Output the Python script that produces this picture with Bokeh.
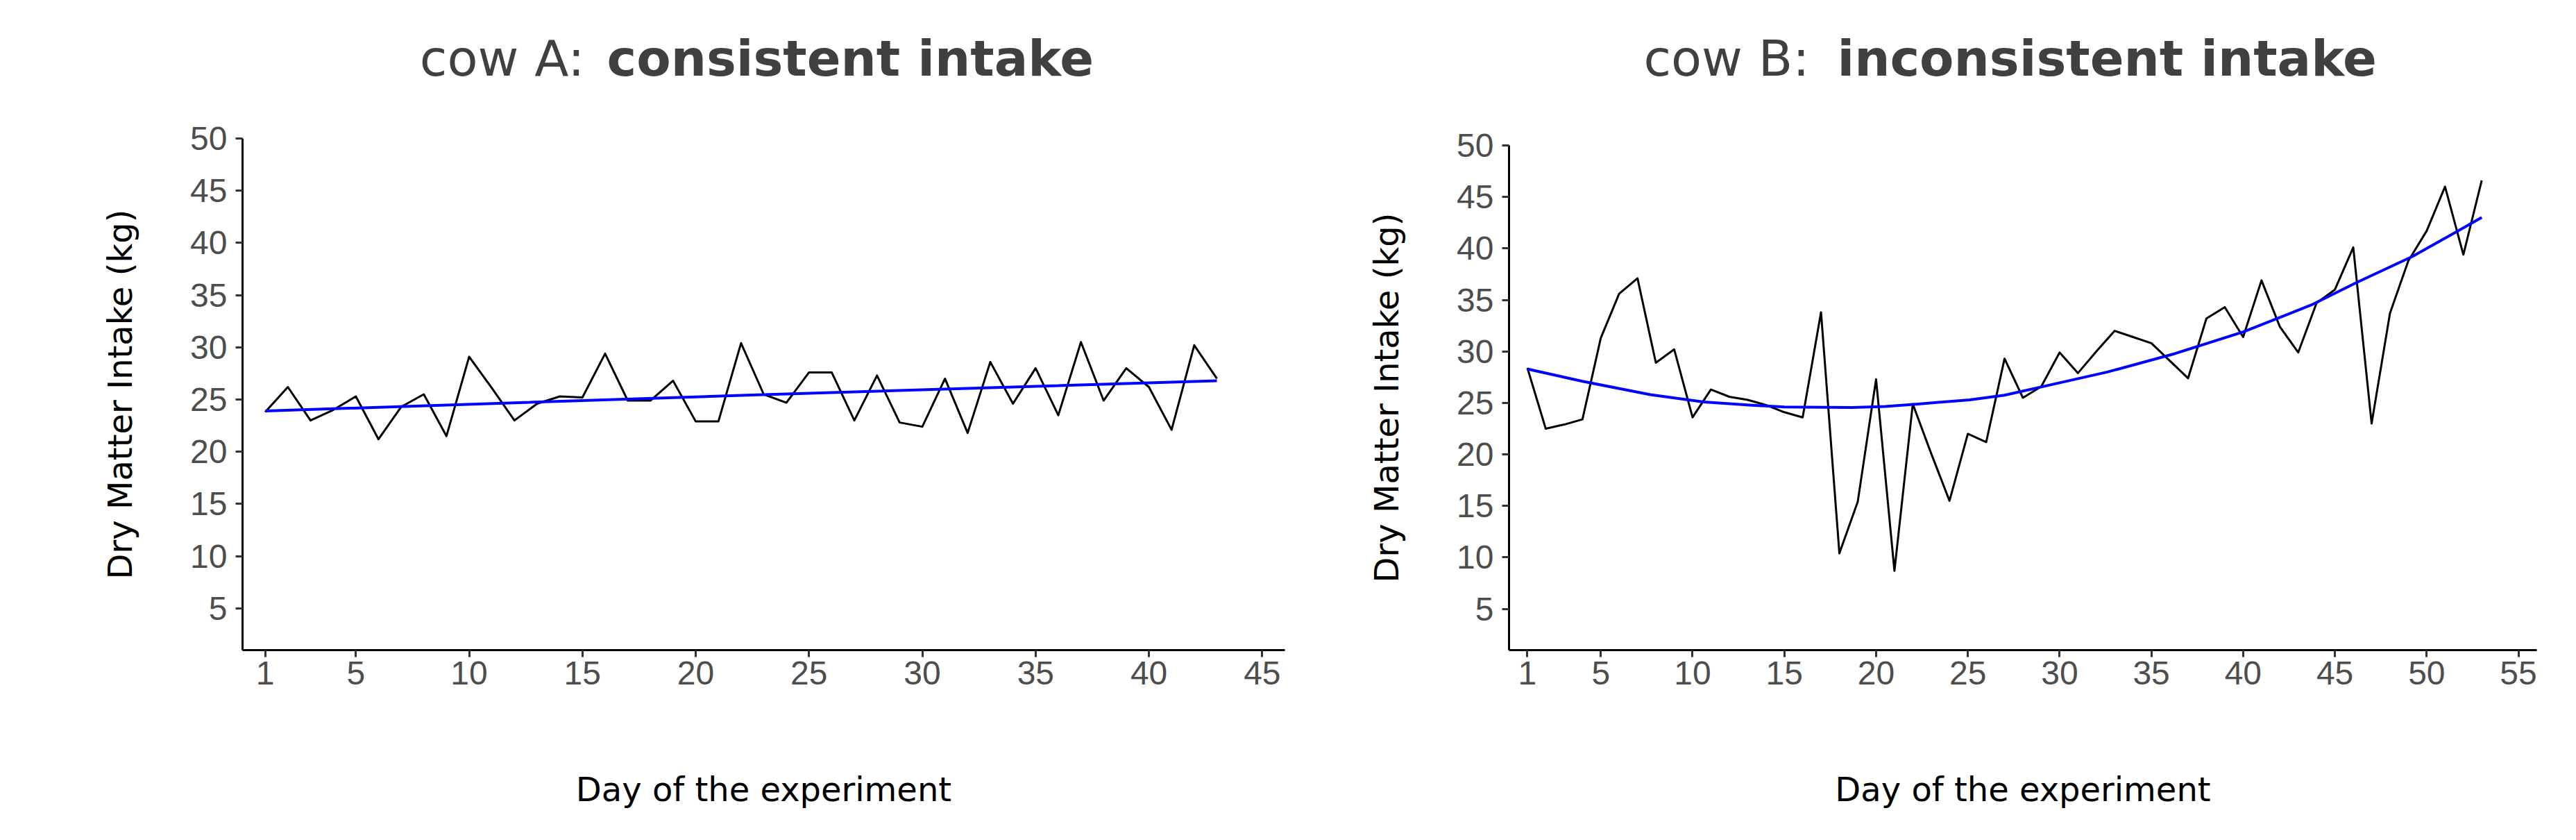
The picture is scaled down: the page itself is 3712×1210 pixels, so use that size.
from bokeh.plotting import figure
from bokeh.layouts import row, column
from bokeh.models import Range1d, FixedTicker, Label
from bokeh.embed import file_html
from bokeh.resources import INLINE

# ---- data ----
days_a = list(range(1, 44))
intake_a = [23.8, 26.2, 23.0, 24.0, 25.3, 21.2, 24.3, 25.5, 21.5, 29.1,
            26.1, 23.0, 24.6, 25.3, 25.2, 29.4, 24.9, 24.9, 26.8, 22.9,
            22.9, 30.4, 25.5, 24.7, 27.6, 27.6, 23.0, 27.3, 22.8, 22.4,
            27.0, 21.8, 28.6, 24.6, 28.0, 23.5, 30.5, 24.9, 28.0, 26.2,
            22.1, 30.2, 27.0]
# smoothed trend (blue)
trend_days_a = [1, 22, 43]
trend_a = [23.9, 25.4, 26.8]

days_b = list(range(1, 54))
intake_b = [28.4, 22.5, 22.9, 23.4, 31.3, 35.6, 37.1, 28.9, 30.2, 23.6,
            26.3, 25.6, 25.3, 24.8, 24.1, 23.6, 33.8, 10.4, 15.4, 27.3,
            8.7, 24.9, 20.1, 15.5, 22.0, 21.2, 29.3, 25.5, 26.6, 29.9,
            27.9, 30.0, 32.0, 31.4, 30.8, 29.1, 27.4, 33.2, 34.3, 31.4,
            36.9, 32.4, 29.9, 34.7, 36.0, 40.1, 23.0, 33.7, 38.8, 41.7,
            46.0, 39.4, 46.6]
trend_days_b = [1, 4, 7.7, 10.6, 13.1, 15, 18.7, 20.5, 22.3, 25.1, 27,
                29, 32.6, 36.3, 40, 43.7, 46.2, 49.2, 51.7, 53]
trend_b = [28.3, 27.1, 25.8, 25.1, 24.8, 24.6, 24.55, 24.65, 24.9, 25.3,
           25.75, 26.55, 28.0, 29.8, 31.9, 34.5, 36.7, 39.2, 41.7, 43.0]

y_ticks = [5, 10, 15, 20, 25, 30, 35, 40, 45, 50]
x_ticks_a = [1, 5, 10, 15, 20, 25, 30, 35, 40, 45]
x_ticks_b = [1, 5, 10, 15, 20, 25, 30, 35, 40, 45, 50, 55]

title_a = ("cow A:", "consistent intake")
title_b = ("cow B:", "inconsistent intake")
x_label = "Day of the experiment"
y_label = "Dry Matter Intake (kg)"

TITLE_FONT = "DejaVu Sans"
TICK_FONT = "Liberation Sans"
TITLE_H = 150
TITLE_BASE = 67


def make_panel(days, intake, tdays, trend, xmax, xticks, width, bl, br, bt):
    p = figure(width=width, height=1194 - TITLE_H, output_backend="svg",
               toolbar_location=None,
               x_range=Range1d(0, xmax), y_range=Range1d(1, 50),
               min_border_left=bl, min_border_right=br,
               min_border_top=bt, min_border_bottom=258)
    p.background_fill_color = "white"
    p.border_fill_color = "white"
    p.outline_line_color = None
    p.grid.visible = False

    p.line(days, intake, line_color="black", line_width=3, line_join="round")
    p.line(tdays, trend, line_color="#0000FF", line_width=4, line_join="round")

    p.xaxis.ticker = FixedTicker(ticks=xticks)
    p.yaxis.ticker = FixedTicker(ticks=y_ticks)
    for ax in (p.xaxis[0], p.yaxis[0]):
        ax.axis_line_color = "black"
        ax.axis_line_width = 3
        ax.major_tick_line_color = "#333333"
        ax.major_tick_line_width = 3
        ax.major_tick_out = 10
        ax.major_tick_in = 0
        ax.minor_tick_line_color = None
        ax.major_label_text_font = TICK_FONT
        ax.major_label_text_font_size = "48px"
        ax.major_label_text_color = "#4D4D4D"
        ax.axis_label_text_font = TITLE_FONT
        ax.axis_label_text_font_size = "48px"
        ax.axis_label_text_font_style = "normal"
        ax.axis_label_text_color = "black"
    p.xaxis.axis_label = x_label
    p.yaxis.axis_label = y_label
    p.xaxis.major_label_standoff = 6
    p.yaxis.major_label_standoff = 12
    p.xaxis.axis_label_standoff = 120
    p.yaxis.axis_label_standoff = 70
    return p


def make_title(width, parts, split_l, split_r):
    t = figure(width=width, height=TITLE_H, output_backend="svg",
               toolbar_location=None, title=None,
               x_axis_type=None, y_axis_type=None,
               x_range=Range1d(0, 1), y_range=Range1d(0, 1), min_border=0)
    t.grid.visible = False
    t.outline_line_color = None
    t.background_fill_color = "white"
    t.border_fill_color = "white"
    t.add_layout(Label(x=split_l, y=TITLE_BASE, x_units="screen", y_units="screen",
                       text=parts[0], text_font=TITLE_FONT, text_font_size="72px",
                       text_color="#404040", text_align="right",
                       text_baseline="alphabetic"))
    t.add_layout(Label(x=split_r, y=TITLE_BASE, x_units="screen", y_units="screen",
                       text=parts[1], text_font=TITLE_FONT, text_font_size="72px",
                       text_font_style="bold", text_color="#404040",
                       text_align="left", text_baseline="alphabetic"))
    return t


p1 = make_panel(days_a, intake_a, trend_days_a, trend_a, 46, x_ticks_a,
                1872, 349, 21, 199 - TITLE_H)
p2 = make_panel(days_b, intake_b, trend_days_b, trend_b, 56, x_ticks_b,
                1824, 302, 41, 209 - TITLE_H)
# title frames are aligned with the panel frames below them
t1 = make_title(1872, title_a, 493, 525)
t2 = make_title(1824, title_b, 433, 473)

layout = row(column(t1, p1), column(t2, p2))
open("out.html", "w").write(file_html(layout, INLINE))
